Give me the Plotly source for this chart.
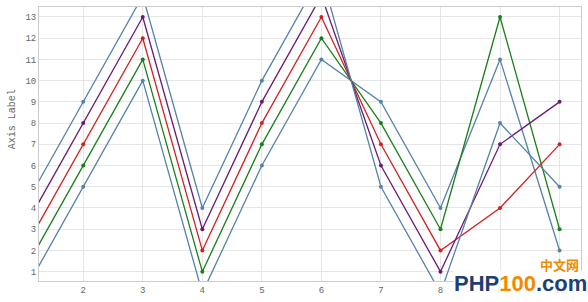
import plotly.graph_objects as go

x_vals = [1, 2, 3, 4, 5, 6, 7, 8, 9, 10]
series_bottom_blue = [0, 5, 10, 0, 6, 11, 9, 4, 11, 2]
series_green = [1, 6, 11, 1, 7, 12, 8, 3, 13, 3]
series_red = [2, 7, 12, 2, 8, 13, 7, 2, 4, 7]
series_purple = [3, 8, 13, 3, 9, 14, 6, 1, 7, 9]
series_top_blue = [4, 9, 14, 4, 10, 15, 5, 0, 8, 5]

x_ticks = [2, 3, 4, 5, 6, 7, 8, 9, 10]
y_ticks = list(range(1, 14))

series = [
    ("Series 1", series_bottom_blue, "#5582a8"),
    ("Series 2", series_green, "#1a7f1a"),
    ("Series 3", series_red, "#d42020"),
    ("Series 4", series_purple, "#6b1a73"),
    ("Series 5", series_top_blue, "#5582a8"),
]

fig = go.Figure()
for name, ys, color in series:
    fig.add_trace(go.Scatter(
        x=x_vals, y=ys, name=name, mode="lines+markers",
        line=dict(color=color, width=1.3),
        marker=dict(color=color, size=4),
        cliponaxis=True,
    ))

tick_font = dict(family="Liberation Mono, DejaVu Sans Mono, monospace", size=9, color="#666666")

fig.update_layout(
    width=588, height=302,
    margin=dict(l=39, r=7, t=6, b=19),
    paper_bgcolor="white", plot_bgcolor="white",
    showlegend=False,
    xaxis=dict(range=[1.257, 10.36], tickmode="array", tickvals=x_ticks,
               ticktext=[str(v) for v in x_ticks],
               showgrid=True, gridcolor="#e6e6e6", gridwidth=1,
               showline=True, linecolor="#cccccc", mirror=True, linewidth=1,
               zeroline=False, ticks="", tickfont=tick_font),
    yaxis=dict(range=[0.56, 13.47], tickmode="array", tickvals=y_ticks,
               ticktext=[str(v) for v in y_ticks],
               showgrid=True, gridcolor="#e6e6e6", gridwidth=1,
               showline=True, linecolor="#cccccc", mirror=True, linewidth=1,
               zeroline=False, ticks="", tickfont=tick_font),
    annotations=[
        dict(text="Axis Label", xref="paper", yref="paper", x=-0.05, y=0.59,
             xanchor="center", yanchor="middle", textangle=-90, showarrow=False,
             font=dict(family="Liberation Mono, DejaVu Sans Mono, monospace", size=10, color="#666666")),
        dict(text="<b><span style='color:#1c3f74'>PHP</span><span style='color:#f08a00'>100</span><span style='color:#1c3f74'>.com</span></b>",
             xref="paper", yref="paper", x=1.012, y=-0.06, xanchor="right", yanchor="bottom",
             showarrow=False, bgcolor="rgba(255,255,255,0.85)", borderpad=0,
             font=dict(family="Arial, Liberation Sans, sans-serif", size=22)),
        dict(text="<b>中文网</b>", xref="paper", yref="paper", x=1.0, y=0.02,
             xanchor="right", yanchor="bottom", showarrow=False,
             font=dict(family="Noto Sans CJK SC", size=13, color="#f08a00")),
    ],
)

fig.write_html("out.html")
